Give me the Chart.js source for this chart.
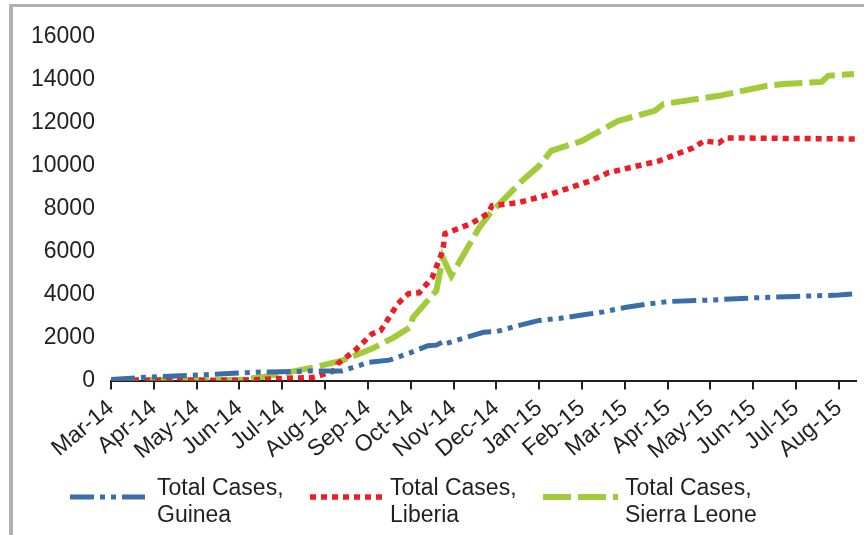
<!DOCTYPE html>
<html>
<head>
<meta charset="utf-8">
<script src="https://cdn.jsdelivr.net/npm/chart.js@4.4.1/dist/chart.umd.min.js"></script>
<style>
  html, body { margin: 0; padding: 0; background: #fff; }
  #wrap { position: relative; width: 864px; height: 535px; }
  #frame {
    position: absolute; left: 9px; top: 4px; right: -10px; bottom: -10px;
    border-left: 4px solid #b1b1b5; border-top: 3px solid #b1b1b5;
    pointer-events: none;
  }
  canvas { position: absolute; left: 0; top: 0; }
</style>
</head>
<body>
<div id="wrap">
  <div id="frame"></div>
  <canvas id="chart" width="864" height="535"></canvas>
</div>
<script>
// Month labels on the x axis (x = months since Mar-14)
const monthLabels = ['Mar-14', 'Apr-14', 'May-14', 'Jun-14', 'Jul-14', 'Aug-14', 'Sep-14', 'Oct-14', 'Nov-14',
    'Dec-14', 'Jan-15', 'Feb-15', 'Mar-15', 'Apr-15', 'May-15', 'Jun-15', 'Jul-15', 'Aug-15'];

const seriesLabels = [
    ['Total Cases,', 'Guinea'],
    ['Total Cases,', 'Liberia'],
    ['Total Cases,', 'Sierra Leone']
];

// Guinea
const guineaMonths = [0, 0.8, 2.0, 3.0, 3.5, 4.0, 4.8, 5.4, 5.8, 6.0, 6.5, 7.0, 7.4, 7.6, 7.75, 7.8, 8.2, 8.7, 9.0,
    9.5, 10.0, 10.5, 11.0, 11.5, 12.0, 12.5, 13.0, 14.0, 15.0, 16.0, 17.0, 17.4];
const guineaCases = [50, 150, 260, 350, 400, 410, 450, 450, 700, 850, 950, 1300, 1620, 1650, 1800, 1700, 1950, 2250, 2280,
    2550, 2800, 2900, 3050, 3200, 3400, 3550, 3680, 3750, 3850, 3920, 3980, 4040];

// Liberia
const liberiaMonths = [0, 3.0, 3.5, 4.0, 4.7, 4.9, 5.2, 5.3, 5.7, 6.1, 6.3, 6.7, 6.95, 7.2, 7.5, 7.75, 7.8, 8.1, 8.4,
    8.8, 8.9, 9.5, 10.3, 11.2, 11.6, 12.8, 13.6, 13.85, 14.2, 14.35, 17.4];
const liberiaCases = [20, 20, 50, 100, 140, 250, 450, 790, 1400, 2180, 2330, 3580, 4050, 4090, 4790, 6050, 6840, 7070, 7300,
    7770, 8140, 8280, 8700, 9300, 9670, 10230, 10840, 11160, 11070, 11300, 11250];

// Sierra Leone
const sierraMonths = [0, 3.0, 3.5, 4.0, 4.7, 5.4, 6.1, 6.6, 7.0, 7.05, 7.6, 7.75, 7.95, 8.6, 8.85, 9.6, 10.0, 10.28,
    11.0, 11.84, 12.7, 12.9, 14.2, 15.3, 15.7, 16.6, 16.75, 17.35];
const sierraCases = [30, 30, 150, 330, 600, 930, 1490, 2000, 2500, 2930, 4190, 5720, 4880, 7120, 7770, 9300, 10000, 10700,
    11160, 12090, 12560, 12880, 13260, 13720, 13810, 13910, 14190, 14280];

const yTicks = [0, 2000, 4000, 6000, 8000, 10000, 12000, 14000, 16000];

function toPoints(xs, ys) {
    return xs.map((x, i) => ({ x: x, y: ys[i] }));
}

const textColor = '#231f20';
const fontFamily = '"Liberation Sans", Arial, sans-serif';

// Legend with two-line labels drawn under the axis
const bottomLegend = {
    id: 'bottomLegend',
    afterDraw(chart) {
        const ctx = chart.ctx;
        const sampleX = [70, 310, 543];
        const textX = [157, 390, 625];
        chart.data.datasets.forEach((ds, i) => {
            const x0 = sampleX[i];
            const y0 = 497;
            ctx.save();
            ctx.strokeStyle = ds.borderColor;
            ctx.lineWidth = ds.borderWidth;
            ctx.setLineDash(ds.borderDash);
            ctx.lineCap = 'butt';
            ctx.beginPath();
            ctx.moveTo(x0, y0);
            ctx.lineTo(x0 + 75, y0);
            ctx.stroke();
            ctx.setLineDash([]);
            ctx.fillStyle = textColor;
            ctx.font = '23px ' + fontFamily;
            ctx.textBaseline = 'middle';
            seriesLabels[i].forEach((line, j) => {
                ctx.fillText(line, textX[i], 489 + j * 27);
            });
            ctx.restore();
        });
    }
};

new Chart(document.getElementById('chart'), {
    type: 'line',
    data: {
        datasets: [{
            label: seriesLabels[0].join(' '),
            data: toPoints(guineaMonths, guineaCases),
            borderColor: '#3b6ea8',
            borderWidth: 5,
            borderDash: [24, 6, 5, 6, 5, 6]
        }, {
            label: seriesLabels[1].join(' '),
            data: toPoints(liberiaMonths, liberiaCases),
            borderColor: '#ee1c25',
            borderWidth: 5.5,
            borderDash: [6, 5]
        }, {
            label: seriesLabels[2].join(' '),
            data: toPoints(sierraMonths, sierraCases),
            borderColor: '#a2cb3a',
            borderWidth: 6,
            borderDash: [28, 7]
        }]
    },
    options: {
        responsive: false,
        animation: false,
        elements: {
            point: { radius: 0 },
            line: { tension: 0, fill: false }
        },
        layout: {
            padding: { left: 15, right: 8, top: 37, bottom: 65 }
        },
        plugins: {
            legend: { display: false },
            tooltip: { enabled: false }
        },
        scales: {
            x: {
                type: 'linear',
                min: 0,
                max: 17.4,
                afterBuildTicks: (axis) => {
                    axis.ticks = monthLabels.map((m, i) => ({ value: i }));
                },
                grid: {
                    drawOnChartArea: false,
                    drawTicks: true,
                    tickLength: 9,
                    color: '#231f20',
                    lineWidth: 2
                },
                border: { display: true, color: '#231f20', width: 2 },
                ticks: {
                    maxRotation: 40,
                    minRotation: 40,
                    autoSkip: false,
                    padding: 5,
                    color: textColor,
                    font: { family: fontFamily, size: 23 },
                    callback: (v) => monthLabels[v]
                }
            },
            y: {
                min: 0,
                max: 16000,
                afterBuildTicks: (axis) => {
                    axis.ticks = yTicks.map((v) => ({ value: v }));
                },
                grid: { display: false, drawTicks: false },
                border: { display: false },
                ticks: {
                    padding: 16,
                    color: textColor,
                    font: { family: fontFamily, size: 23 },
                    callback: (v) => String(v)
                }
            }
        }
    },
    plugins: [bottomLegend]
});
</script>
</body>
</html>
